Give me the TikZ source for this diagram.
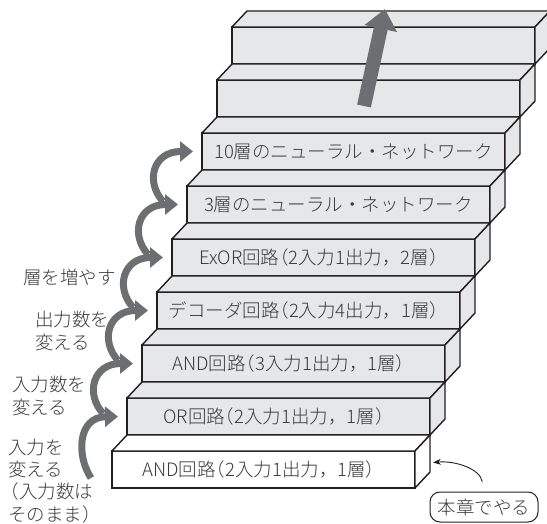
\documentclass[tikz,border=0pt]{standalone}
\usepackage{fontspec}
\setmainfont{Noto Sans CJK JP}[UprightFont=* Light]
\usetikzlibrary{arrows.meta,calc}
\definecolor{stepgray}{HTML}{E6E7E8}
\definecolor{arrowgray}{HTML}{6D6E71}
\definecolor{ink}{HTML}{231F20}
\definecolor{txt}{HTML}{3A3A3A}
\newcommand\lpar{\hspace{-0.5em}（}
\newcommand\stairstep[4]{%
  \pgfmathsetmacro\sx{263.5+15*#2}%
  \pgfmathsetmacro\sy{469.5-53*#2}%
  \node[face, fill=#3] (#1) at (\sx,\sy) {#4};
  \draw[side, fill=#3] (#1.north west) -- ++(15,-16) -- ++(303,0) -- (#1.north east) -- cycle;
  \draw[side, fill=#3] (#1.north east) -- ++(15,-16) -- ++(0,37) -- (#1.south east) -- cycle;
}
\begin{document}
\begin{tikzpicture}[x=1pt,y=-1pt,
  face/.style={draw=ink, line width=1.4pt, fill=stepgray, minimum width=303pt, minimum height=37pt,
    inner sep=0pt, outer sep=0pt, text=txt, font=\fontsize{18.5}{22}\selectfont},
  side/.style={draw=ink, line width=1.4pt, fill=stepgray, line join=round},
  sidetext/.style={align=left, anchor=west, text=txt, font=\fontsize{18.5}{22.3}\selectfont, inner sep=0pt},
  climb/.style={draw=arrowgray, line width=7pt, -{Triangle[length=13pt,width=20pt]}, shorten >=9pt},
]
\useasboundingbox (0,0) rectangle (547,524);
\clip (0,0) rectangle (547,524);

\stairstep{s8}{8}{stepgray}{}
\stairstep{s7}{7}{stepgray}{}
\stairstep{s6}{6}{stepgray}{10層のニューラル・ネットワーク}
\stairstep{s5}{5}{stepgray}{3層のニューラル・ネットワーク}
\stairstep{s4}{4}{stepgray}{ExOR回路\lpar 2入力1出力，2層）}
\stairstep{s3}{3}{stepgray}{デコーダ回路\lpar 2入力4出力，1層）}
\stairstep{s2}{2}{stepgray}{AND回路\lpar 3入力1出力，1層）}
\stairstep{s1}{1}{stepgray}{OR回路\lpar 2入力1出力，1層）}
\stairstep{s0}{0}{white}{AND回路\lpar 2入力1出力，1層）}

% big arrow
\coordinate (ba) at (364,106);
\coordinate (bt) at (385,9);
\draw[arrowgray, line width=14pt, -{Triangle[length=20pt,width=32pt]}] (ba) -- (bt);

% climbing arcs
\coordinate (c0) at (91,478);
\draw[climb] (c0) .. controls (76,455) and (78,417) .. (s1.west);
\foreach \n/\p in {2/1,3/2,4/3,5/4,6/5}{
  \draw[climb] ($(s\p.west)+(-24,-3)$) .. controls ($(s\n.west)+(-57,30)$) and ($(s\n.west)+(-49,0)$) .. (s\n.west);
}

% left labels
\node[sidetext] (l1) at (23,277) {層を増やす};
\node[sidetext] (l2) at (35,331) {出力数を\\変える};
\node[sidetext] (l3) at (12,396) {入力数を\\変える};
\node[sidetext] (l4) at (8,481) {入力を\\変える\\\hspace{-0.4em}（入力数は\\そのまま）};

% note
\node[draw=ink, line width=1pt, rounded corners=10pt, minimum width=108pt, minimum height=30pt,
  inner sep=0pt, text=txt, font=\fontsize{18.5}{22}\selectfont] (note) at (484,507) {本章でやる};
\draw[ink, line width=0.9pt, -{Stealth[length=8pt,width=6pt]}, shorten <=10pt]
  (note.north) to[out=100, in=5] ($(s0.east)+(18,-7)$);
\end{tikzpicture}
\end{document}
